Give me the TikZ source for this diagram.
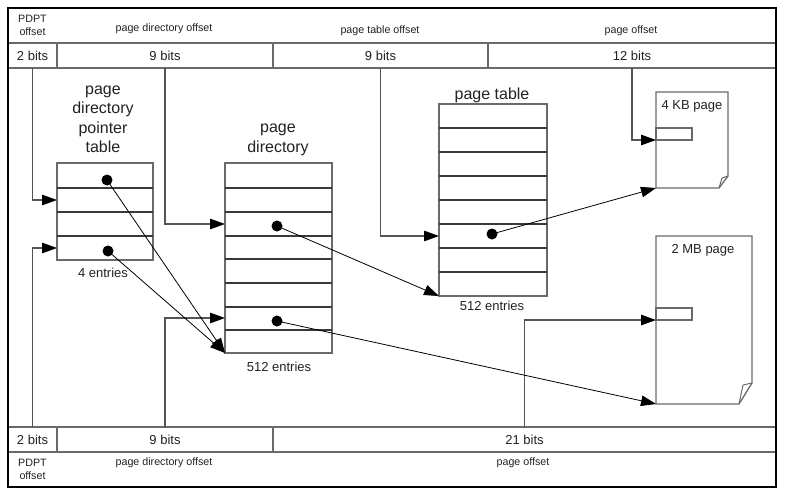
\documentclass[tikz,border=0pt]{standalone}
\usepackage{fontspec}
\setmainfont{Liberation Sans}
\usetikzlibrary{arrows.meta}
\definecolor{boxgray}{HTML}{6A6A6A}
\definecolor{rowgray}{HTML}{3A3A3A}
\definecolor{txt}{HTML}{222222}
\definecolor{elbgray}{HTML}{555555}
\begin{document}
\begin{tikzpicture}[x=1pt,y=-1pt,
  boxline/.style={draw=boxgray, line width=1.3pt, line join=miter},
  tbl/.style={draw=boxgray, line width=1.3pt, inner sep=0pt, outer sep=0pt, anchor=north west},
  rowline/.style={draw=rowgray, line width=1.4pt},
  cell/.style={draw=boxgray, line width=1.3pt, inner sep=0pt, outer sep=0pt, anchor=north west,
    minimum height=25pt, text=txt, font=\fontsize{13}{15}\selectfont},
  small/.style={text=txt, font=\fontsize{10.7}{13}\selectfont, align=center, inner sep=0pt},
  mid/.style={text=txt, font=\fontsize{13}{15}\selectfont, inner sep=0pt},
  title/.style={text=txt, font=\fontsize{16}{19.5}\selectfont, align=center, inner sep=0pt},
  dot/.style={circle, fill=black, inner sep=0pt, minimum size=11pt},
  ptr/.style={draw=black, line width=0.8pt, -{Triangle[length=15pt,width=10.5pt]}},
  elb/.style={draw=elbgray, line width=1.2pt, -{Triangle[length=15pt,width=10.5pt,color=black]}},
  ghost/.style={inner sep=0pt, outer sep=0pt, anchor=north west}
]
\useasboundingbox[fill=white] (0,0) rectangle (786,499);

% ---------- top register ----------
\node[cell, minimum width=49pt]  (t1) at (8,43)   {2 bits};
\node[cell, minimum width=216pt] (t2) at (57,43)  {9 bits};
\node[cell, minimum width=215pt] (t3) at (273,43) {9 bits};
\node[cell, minimum width=288pt] (t4) at (488,43) {12 bits};
\node[small] (lt1) at (32.5,25.5) {PDPT\\offset};
\node[small] (lt2) at (164,29) {page directory offset};
\node[small] (lt3) at (380,31) {page table offset};
\node[small] (lt4) at (631,31) {page offset};

% ---------- bottom register ----------
\node[cell, minimum width=49pt]  (b1) at (8,427)   {2 bits};
\node[cell, minimum width=216pt] (b2) at (57,427)  {9 bits};
\node[cell, minimum width=503pt] (b3) at (273,427) {21 bits};
\node[small] (lb1) at (32.5,469.5) {PDPT\\offset};
\node[small] (lb2) at (164,463) {page directory offset};
\node[small] (lb3) at (523,463) {page offset};

% ---------- page directory pointer table ----------
\node[tbl, minimum width=96pt, minimum height=97pt] (pdpt) at (57,163) {};
\foreach \yy in {188,212,236} \draw[rowline] (57,\yy) -- (153,\yy);
\node[title] (pdptt) at (103,119.5) {page\\directory\\pointer\\table};
\node[mid] (pdpte) at (103,273) {4 entries};

% ---------- page directory ----------
\node[tbl, minimum width=107pt, minimum height=190pt] (pd) at (225,163) {};
\foreach \yy in {188,212,236,259,283,307,330} \draw[rowline] (225,\yy) -- (332,\yy);
\node[title] (pdt) at (278,140) {page\\directory};
\node[mid] (pde) at (279,367) {512 entries};

% ---------- page table ----------
\node[tbl, minimum width=108pt, minimum height=192pt] (pt) at (439,104) {};
\foreach \yy in {128,152,176,200,224,248,272} \draw[rowline] (439,\yy) -- (547,\yy);
\node[title] (ptt) at (492,95) {page table};
\node[mid] (pte) at (492,306) {512 entries};

% ---------- 4 KB page ----------
\node[ghost, minimum width=72pt, minimum height=96pt] (p4) at (656,92) {};
\draw[boxline] (656,92) -- (728,92) -- (728,176) -- (719,188) -- (656,188) -- cycle;
\draw[boxline, line width=1pt] (728,176) -- (722,178) -- (719,188);
\draw[boxline] (656,128) rectangle (692,140);
\coordinate (p4in) at (656,140);
\node[mid] (p4l) at (692,106) {4 KB page};

% ---------- 2 MB page ----------
\node[ghost, minimum width=96pt, minimum height=168pt] (p2) at (656,236) {};
\draw[boxline] (656,236) -- (752,236) -- (752,383) -- (739,404) -- (656,404) -- cycle;
\draw[boxline, line width=1pt] (752,383) -- (743,385) -- (739,404);
\draw[boxline] (656,308) rectangle (692,320);
\coordinate (p2in) at (656,320);
\node[mid] (p2l) at (703,250) {2 MB page};

% ---------- entry points ----------
\coordinate (pdptin1) at (57,200);
\coordinate (pdptin2) at (57,248);
\coordinate (pdin1) at (225,224);
\coordinate (pdin2) at (225,318);
\coordinate (ptin) at (439,236);

% ---------- elbow connectors ----------
\draw[elb] (t1.south) |- (pdptin1);
\draw[elb] (b1.north) |- (pdptin2);
\draw[elb] (t2.south) |- (pdin1);
\draw[elb] (b2.north) |- (pdin2);
\draw[elb] (t3.south) |- (ptin);
\draw[elb] (t4.south) |- (p4in);
\draw[elb] (b3.north) |- (p2in);

% ---------- pointer dots ----------
\node[dot] (d1) at (107,180) {};
\node[dot] (d2) at (108,251) {};
\node[dot] (d3) at (277,226) {};
\node[dot] (d4) at (277,321) {};
\node[dot] (d5) at (492,234) {};
\draw[ptr] (d1.center) -- (pd.south west);
\draw[ptr] (d2.center) -- (pd.south west);
\draw[ptr] (d3.center) -- (pt.south west);
\draw[ptr] (d4.center) -- (p2.south west);
\draw[ptr] (d5.center) -- (p4.south west);

% ---------- outer frame ----------
\draw[black, line width=1.1pt] (8,8) rectangle (776,487);
\end{tikzpicture}
\end{document}
